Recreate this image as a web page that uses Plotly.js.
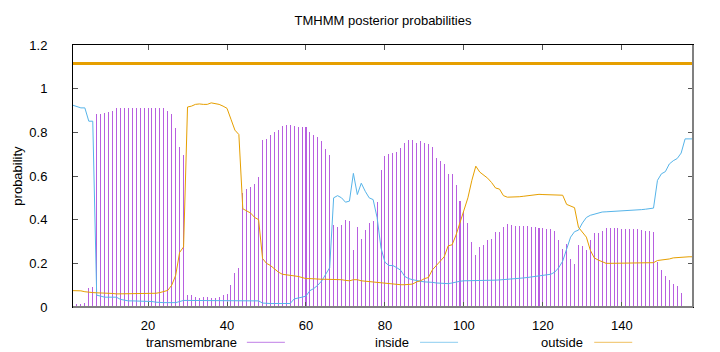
<!DOCTYPE html>
<html>
<head>
<meta charset="utf-8">
<script src="https://cdn.plot.ly/plotly-3.0.1.min.js"></script>
<style>html,body{margin:0;padding:0;background:#fff;}#chart{width:720px;height:352px;}</style>
</head>
<body>
<div id="chart"></div>
<script>
// Residue positions 1..158
const positions = [];
for (let k = 1; k <= 158; k++) positions.push(k);

// Posterior probability of transmembrane (impulses)
const transmembrane = [
  0.005,0.012,0.015,0.02,0.085,0.09,0.883,0.883,0.89,0.893,
  0.898,0.913,0.913,0.913,0.913,0.913,0.913,0.912,0.91,0.912,
  0.913,0.913,0.913,0.91,0.9,0.883,0.82,0.733,0.695,0.054,
  0.054,0.047,0.043,0.047,0.047,0.04,0.043,0.047,0.054,0.059,
  0.099,0.157,0.18,0.52,0.54,0.55,0.565,0.595,0.764,0.77,
  0.79,0.8,0.81,0.83,0.835,0.833,0.83,0.825,0.825,0.825,
  0.8,0.787,0.78,0.76,0.725,0.695,0.374,0.367,0.374,0.4,
  0.393,0.263,0.365,0.313,0.353,0.385,0.393,0.481,0.626,0.69,
  0.7,0.705,0.71,0.73,0.751,0.764,0.764,0.751,0.762,0.75,
  0.745,0.733,0.684,0.669,0.656,0.608,0.608,0.557,0.486,0.435,
  0.385,0.3,0.237,0.275,0.283,0.306,0.313,0.344,0.345,0.367,
  0.378,0.375,0.373,0.372,0.372,0.37,0.368,0.365,0.362,0.36,
  0.357,0.355,0.346,0.309,0.267,0.287,0.222,0.199,0.283,0.28,
  0.26,0.306,0.34,0.34,0.346,0.363,0.363,0.363,0.362,0.358,
  0.358,0.356,0.356,0.355,0.352,0.35,0.348,0.343,0.205,0.17,
  0.14,0.122,0.107,0.095,0.064,0,0,0
];

// Posterior probability of inside
const inside = [
  0.924,0.918,0.912,0.912,0.851,0.851,0.054,0.05,0.045,0.045,
  0.045,0.045,0.035,0.03,0.028,0.028,0.028,0.028,0.028,0.027,
  0.025,0.022,0.02,0.02,0.02,0.02,0.02,0.025,0.03,0.03,
  0.03,0.03,0.03,0.03,0.03,0.03,0.03,0.03,0.03,0.03,
  0.03,0.03,0.03,0.03,0.03,0.03,0.03,0.028,0.018,0.016,
  0.016,0.016,0.016,0.016,0.016,0.016,0.037,0.04,0.045,0.05,
  0.075,0.085,0.1,0.12,0.15,0.18,0.5,0.51,0.5,0.48,
  0.485,0.612,0.515,0.567,0.53,0.5,0.492,0.41,0.27,0.205,
  0.19,0.19,0.18,0.168,0.14,0.13,0.125,0.12,0.118,0.115,
  0.115,0.113,0.11,0.108,0.107,0.107,0.11,0.115,0.118,0.12,
  0.12,0.12,0.12,0.12,0.12,0.121,0.122,0.123,0.124,0.125,
  0.126,0.128,0.13,0.132,0.133,0.135,0.137,0.14,0.142,0.144,
  0.146,0.15,0.16,0.18,0.21,0.26,0.32,0.345,0.352,0.385,
  0.41,0.42,0.425,0.433,0.435,0.436,0.437,0.437,0.438,0.438,
  0.439,0.44,0.442,0.444,0.446,0.448,0.45,0.453,0.58,0.61,
  0.62,0.655,0.67,0.68,0.705,0.77,0.77,0.77
];

// Posterior probability of outside
const outside = [
  0.075,0.075,0.074,0.07,0.067,0.066,0.065,0.065,0.064,0.063,
  0.062,0.06,0.06,0.06,0.06,0.06,0.06,0.06,0.06,0.061,
  0.062,0.063,0.066,0.07,0.076,0.1,0.145,0.25,0.275,0.916,
  0.92,0.928,0.93,0.928,0.928,0.935,0.932,0.928,0.92,0.91,
  0.86,0.81,0.79,0.45,0.44,0.43,0.41,0.4,0.222,0.2,
  0.19,0.175,0.16,0.15,0.148,0.145,0.143,0.14,0.135,0.13,
  0.13,0.128,0.127,0.127,0.127,0.127,0.127,0.127,0.125,0.122,
  0.12,0.125,0.125,0.12,0.118,0.116,0.115,0.113,0.112,0.11,
  0.106,0.104,0.103,0.102,0.102,0.102,0.105,0.115,0.12,0.13,
  0.135,0.17,0.19,0.215,0.23,0.28,0.285,0.33,0.39,0.443,
  0.5,0.58,0.645,0.618,0.603,0.59,0.57,0.545,0.54,0.51,
  0.503,0.503,0.503,0.505,0.507,0.51,0.512,0.514,0.516,0.515,
  0.514,0.513,0.512,0.512,0.512,0.47,0.462,0.455,0.365,0.345,
  0.32,0.26,0.225,0.215,0.207,0.2,0.2,0.2,0.2,0.2,
  0.2,0.2,0.2,0.2,0.2,0.2,0.2,0.203,0.213,0.215,
  0.218,0.22,0.225,0.227,0.229,0.23,0.23,0.23
];

// Predicted topology bar (outside along the whole sequence)
const topologyX = [1, 158];
const topologyY = [1.115, 1.115];

const xTicks = [20, 40, 60, 80, 100, 120, 140];
const yTicks = [0, 0.2, 0.4, 0.6, 0.8, 1, 1.2];
const yTickText = ["0", "0.2", "0.4", "0.6", "0.8", "1", "1.2"];
const legendLabels = ["transmembrane", "inside", "outside"];

const cTM = "#b75fe0", cIn = "#56b4e9", cOut = "#e69f00";
const FONT = "Liberation Sans, Arial, Helvetica, sans-serif";

const traces = [
  {type: "bar", x: positions, y: transmembrane, width: 0.26,
   marker: {color: cTM, line: {width: 0}}, hoverinfo: "skip", showlegend: false},
  {type: "scatter", mode: "lines", x: positions, y: inside,
   line: {color: cIn, width: 1}, hoverinfo: "skip", showlegend: false},
  {type: "scatter", mode: "lines", x: positions, y: outside,
   line: {color: cOut, width: 1}, hoverinfo: "skip", showlegend: false},
  {type: "scatter", mode: "lines", x: topologyX, y: topologyY,
   line: {color: cOut, width: 3}, hoverinfo: "skip", showlegend: false}
];

const L = 73.3, R = 692.7, T = 44.7, B = 306.7;
const W = R - L, H = B - T;
const px = v => (v - L) / W;
const py = v => (B - v) / H;

// legend: text then sample line (gnuplot style)
const legendText = [239, 411, 585];
const legendLine = [[247, 285], [420, 458], [594, 632]];
const legendColors = ["#c07fe6", "#8ccdf0", "#efc060"];
const legY = 342;

const annotations = [
  {text: "probability", xref: "paper", yref: "paper", x: px(17), y: 0.5,
   textangle: -90, showarrow: false, font: {family: FONT, size: 13, color: "#000"},
   xanchor: "center", yanchor: "middle"}
];
const shapes = [
  {type: "line", xref: "paper", yref: "paper", x0: 0, x1: 1, y0: 0, y1: 0,
   line: {color: "#808080", width: 2}, layer: "above"},
  {type: "line", xref: "paper", yref: "paper", x0: 1, x1: 1, y0: 0, y1: 1,
   line: {color: "#808080", width: 2}, layer: "above"}
];
legendLabels.forEach((lab, k) => {
  annotations.push({text: lab, xref: "paper", yref: "paper", x: px(legendText[k]), y: py(legY),
    xanchor: "right", yanchor: "middle", showarrow: false,
    font: {family: FONT, size: 13, color: "#000"}});
  shapes.push({type: "line", xref: "paper", yref: "paper",
    x0: px(legendLine[k][0]), x1: px(legendLine[k][1]), y0: py(legY), y1: py(legY),
    line: {color: legendColors[k], width: 1}});
});

const layout = {
  width: 720, height: 352,
  margin: {l: L, r: 720 - R, t: T, b: 352 - B, pad: 0},
  paper_bgcolor: "#fff", plot_bgcolor: "#fff",
  font: {family: FONT, size: 13, color: "#000"},
  title: {text: "TMHMM posterior probabilities", x: 0.5, xref: "paper",
          y: 1 - 20 / 352, yref: "container", yanchor: "middle",
          font: {family: FONT, size: 13, color: "#000"}},
  showlegend: false,
  bargap: 0,
  xaxis: {range: [1, 158], tickvals: xTicks, ticks: "inside", ticklen: 5,
          tickcolor: "#555", showline: true, linecolor: "#000", linewidth: 1,
          mirror: "ticks", showgrid: false, zeroline: false,
          ticklabelstandoff: 6, tickfont: {family: FONT, size: 13, color: "#000"}},
  yaxis: {range: [0, 1.2], tickvals: yTicks, ticktext: yTickText, ticks: "inside", ticklen: 5,
          tickcolor: "#555", showline: true, linecolor: "#000", linewidth: 1,
          mirror: "ticks", showgrid: false, zeroline: false,
          ticklabelstandoff: 22, tickfont: {family: FONT, size: 13, color: "#000"}},
  annotations: annotations,
  shapes: shapes
};

Plotly.newPlot("chart", traces, layout, {staticPlot: true, displayModeBar: false});
</script>
</body>
</html>
